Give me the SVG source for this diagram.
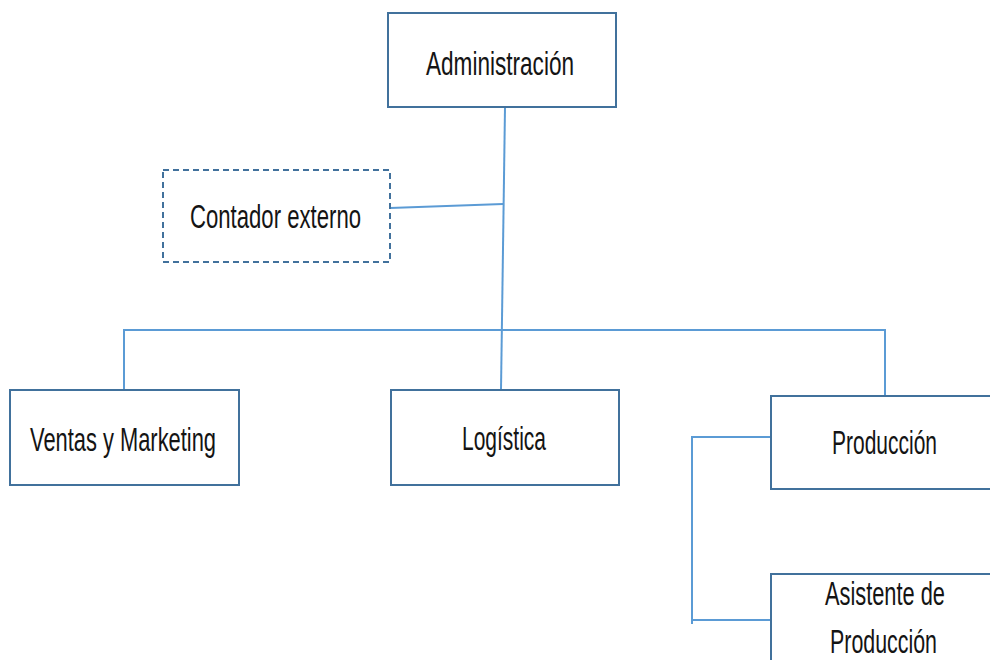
<svg xmlns="http://www.w3.org/2000/svg" width="990" height="660" viewBox="0 0 990 660">
<style>
.box{fill:#fff;stroke:#41719c;stroke-width:2}
.dash{fill:#fff;stroke:#41719c;stroke-width:2;stroke-dasharray:6 4}
.lbl{font-family:"Liberation Sans",Arial,sans-serif;font-size:34px;fill:#141414}
.conn{fill:none;stroke:#5b9bd5;stroke-width:2}
</style>
<rect width="990" height="660" fill="#fff"/>
<g id="connectors">
<path class="conn" d="M505,107 L501,390"/>
<path class="conn" d="M390,208 L503,204"/>
<path class="conn" d="M124,390 V330 H885 V396"/>
<path class="conn" d="M771,437 H692 V624 M692,620 H771"/>
</g>
<g id="admin">
<rect class="box" x="388" y="13" width="228" height="94"/>
<text class="lbl" x="426" y="75" textLength="148" lengthAdjust="spacingAndGlyphs">Administración</text>
</g>
<g id="contador">
<rect class="dash" x="163" y="170" width="227" height="92"/>
<text class="lbl" x="190" y="228" textLength="171" lengthAdjust="spacingAndGlyphs">Contador externo</text>
</g>
<g id="ventas">
<rect class="box" x="10" y="390" width="229" height="95"/>
<text class="lbl" x="30" y="451" textLength="186" lengthAdjust="spacingAndGlyphs">Ventas y Marketing</text>
</g>
<g id="logistica">
<rect class="box" x="391" y="390" width="228" height="95"/>
<text class="lbl" x="462" y="450" textLength="84" lengthAdjust="spacingAndGlyphs">Logística</text>
</g>
<g id="produccion">
<rect class="box" x="771" y="396" width="230" height="93"/>
<text class="lbl" x="832" y="454" textLength="105" lengthAdjust="spacingAndGlyphs">Producción</text>
</g>
<g id="asistente">
<rect class="box" x="771" y="574" width="230" height="100"/>
<text class="lbl" x="825" y="605" textLength="120" lengthAdjust="spacingAndGlyphs">Asistente de</text>
<text class="lbl" x="830" y="653" textLength="107" lengthAdjust="spacingAndGlyphs">Producción</text>
</g>
</svg>
